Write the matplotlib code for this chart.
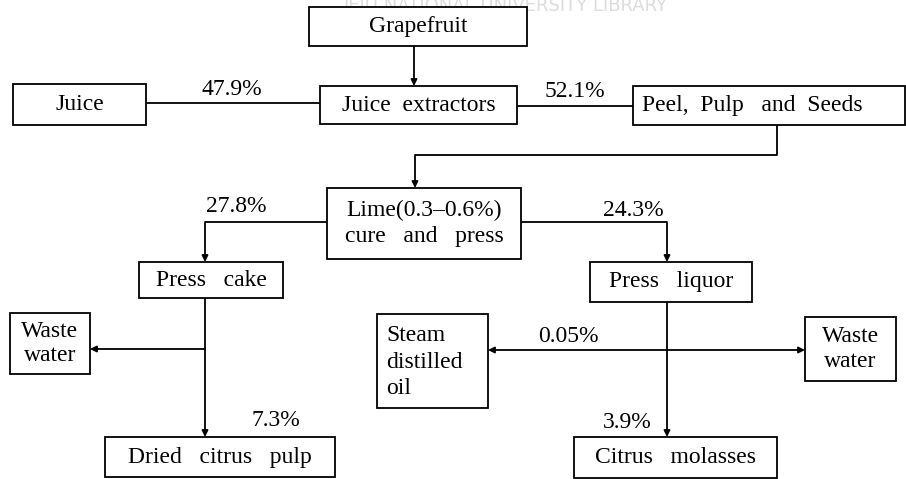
import matplotlib.pyplot as plt
from matplotlib.patches import Rectangle

# textos de los nodos
nodos = ["grapefruit", "juice", "extract", "peel", "lime", "cake", "liquor",
         "waste_l", "steam", "waste_r", "dried", "molasses"]
etiquetas = ["Grapefruit", "Juice", "Juice  extractors", "Peel,  Pulp   and  Seeds",
             "Lime(0.3\u20130.6%)\ncure   and   press", "Press   cake", "Press   liquor",
             "Waste\nwater", "Steam\ndistilled\noil", "Waste\nwater",
             "Dried   citrus   pulp", "Citrus   molasses"]

# porcentajes de cada flujo
porcentajes = ["47.9%", "52.1%", "27.8%", "24.3%", "7.3%", "3.9%", "0.05%"]

# layout en pixeles (x0, y0, x1, y1)
cajas = {
    "grapefruit": (309, 7, 527, 46),
    "juice": (13, 84, 146, 125),
    "extract": (320, 86, 517, 124),
    "peel": (633, 86, 905, 125),
    "lime": (327, 188, 521, 259),
    "cake": (139, 262, 283, 298),
    "liquor": (590, 262, 752, 302),
    "waste_l": (10, 313, 90, 374),
    "steam": (377, 314, 488, 408),
    "waste_r": (805, 317, 896, 381),
    "dried": (105, 437, 335, 477),
    "molasses": (574, 437, 777, 478),
}
pos_pct = [(232, 89), (575, 91), (236, 207), (633, 210), (276, 420), (627, 423), (568, 337)]

fuente = "Liberation Serif"
fs = 17
lw = 1.3

fig = plt.figure(figsize=(9.06, 4.79), dpi=100)
ax = fig.add_axes([0, 0, 1, 1])
ax.set_xlim(0, 906)
ax.set_ylim(479, 0)
ax.axis("off")

# marca de agua de fondo (en el original queda tapada en parte)
ax.text(506, 6, "JEJU NATIONAL UNIVERSITY LIBRARY", ha="center", va="center",
        fontsize=13, color="#dcdcdc", family="DejaVu Sans", zorder=0)

for nodo, txt in zip(nodos, etiquetas):
    x0, y0, x1, y1 = cajas[nodo]
    ax.add_patch(Rectangle((x0, y0), x1 - x0, y1 - y0, facecolor="white",
                           edgecolor="black", lw=lw, zorder=2))
    if nodo == "peel":
        ax.text(x0 + 9, (y0 + y1) / 2, txt, ha="left", va="center",
                fontsize=fs, family=fuente, zorder=3, clip_on=True)
    elif nodo == "steam":
        ax.text(x0 + 9, (y0 + y1) / 2 + 1, txt, ha="left", va="center",
                fontsize=fs, family=fuente, zorder=3, linespacing=1.35)
    elif nodo == "lime":
        ax.text((x0 + x1) / 2, (y0 + y1) / 2, txt, ha="center", va="center",
                fontsize=fs, family=fuente, zorder=3, linespacing=1.3)
    elif nodo.startswith("waste"):
        ax.text((x0 + x1) / 2, (y0 + y1) / 2, txt, ha="center", va="center",
                fontsize=fs, family=fuente, zorder=3, linespacing=1.2)
    else:
        ax.text((x0 + x1) / 2, (y0 + y1) / 2, txt, ha="center", va="center",
                fontsize=fs, family=fuente, zorder=3)


def linea(xs, ys):
    ax.plot(xs, ys, color="black", lw=lw, zorder=1, solid_capstyle="butt")


def flecha(x0, y0, x1, y1):
    ax.annotate("", xy=(x1, y1), xytext=(x0, y0), zorder=1,
                arrowprops=dict(arrowstyle="-|>", color="black", lw=lw,
                                mutation_scale=9, shrinkA=0, shrinkB=0))


flecha(414, 46, 414, 86)
linea([146, 320], [103, 103])
linea([517, 633], [106, 106])
linea([777, 777, 415], [125, 155, 155])
flecha(415, 155, 415, 188)
linea([327, 205], [222, 222])
flecha(205, 222, 205, 262)
linea([521, 667], [222, 222])
flecha(667, 222, 667, 262)
flecha(205, 298, 205, 437)
flecha(205, 349, 90, 349)
flecha(667, 302, 667, 437)
flecha(667, 350, 488, 350)
flecha(667, 350, 805, 350)

for p, (x, y) in zip(porcentajes, pos_pct):
    ax.text(x, y, p, ha="center", va="center", fontsize=fs, family=fuente)

fig.savefig("out.png", dpi=100)
